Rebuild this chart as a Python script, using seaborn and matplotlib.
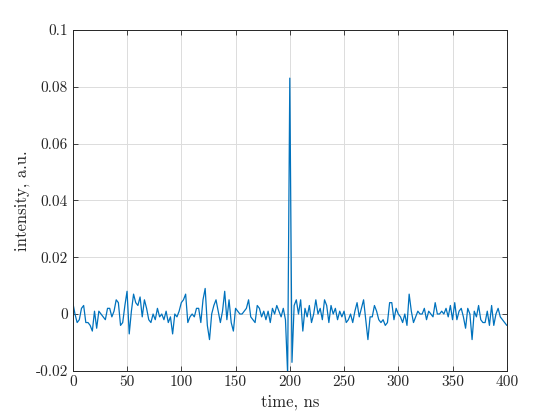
import numpy as np
import pandas as pd
import matplotlib
matplotlib.use("Agg")
import matplotlib.pyplot as plt
import seaborn as sns

# time axis, ns (2 ns sampling)
time_ns = np.arange(0, 401, 2)

# measured intensity, units of 1e-3 a.u.
intensity_milli = [
    4, 0, -3, -2, 2, 3, -3, -3, -4, -6,
    1, -5, 1, 0, -1, -2, 2, 2, -1, 1,
    5, 4, -4, -3, 3, 8, -7, 1, 7, 4,
    3, 6, -1, 5, 2, -2, -3, 0, -2, 2,
    -1, 0, -2, 1, -3, -1, -7, 0, -1, 1,
    4, 5, 7, -3, -1, 0, -1, 2, 2, -3,
    5, 9, -4, -9, 0, 3, 5, 1, -3, 1,
    8, -2, 5, -3, -6, 2, 1, 0, 0, 1,
    2, 5, -1, -2, -3, 3, 2, -1, 1, -2,
    1, -3, 2, 0, 3, 1, -1, 2, -2, -21,
    83, -17, 3, 5, 0, 5, -6, 2, -1, 3,
    -3, 0, 5, 0, 2, -2, 5, 3, -3, 3,
    0, 2, -2, 1, -1, 1, -3, -2, 0, -3,
    1, 4, -1, 2, 5, -2, -9, -1, -1, 3,
    1, -2, -3, -2, -4, -3, 4, 4, -2, 2,
    0, -1, -3, 0, -4, 7, 1, -3, -1, 1,
    0, 0, 2, -2, 1, 0, -1, 4, 0, 0,
    1, 0, 2, -1, 3, -2, 4, -2, 1, 2,
    -1, -5, 2, 0, -9, 1, -1, 3, -2, -3,
    -3, 1, -4, 3, -4, 0, 2, -1, -2, -3,
    -4,
]

xticks = [0, 50, 100, 150, 200, 250, 300, 350, 400]
yticks = [-0.02, 0, 0.02, 0.04, 0.06, 0.08, 0.1]
ytick_labels = ["-0.02", "0", "0.02", "0.04", "0.06", "0.08", "0.1"]


def main():
    df = pd.DataFrame({"time": time_ns, "intensity": np.array(intensity_milli) * 1e-3})

    sns.set_style("ticks")
    plt.rcParams["font.family"] = ["cmr10", "DejaVu Serif"]
    plt.rcParams["axes.unicode_minus"] = False
    plt.rcParams["axes.formatter.use_mathtext"] = True

    fig = plt.figure(figsize=(5.6, 4.2), dpi=100)
    ax = fig.add_axes([0.13, 0.117, 0.775, 0.812])

    sns.lineplot(data=df, x="time", y="intensity", color="#0072BD", linewidth=0.9, ax=ax)

    ax.set_xlim(0, 400)
    ax.set_ylim(-0.02, 0.1)
    ax.set_xticks(xticks)
    ax.set_xticklabels([str(v) for v in xticks])
    ax.set_yticks(yticks)
    ax.set_yticklabels(ytick_labels)
    ax.grid(True, color="#dcdcdc", linewidth=0.7)
    ax.set_axisbelow(True)
    ax.tick_params(direction="in", top=True, right=True, length=3.5,
                   width=0.6, color="#262626", labelsize=11, labelcolor="#262626")
    for sp in ax.spines.values():
        sp.set_visible(True)
        sp.set_color("#262626")
        sp.set_linewidth(0.7)

    ax.set_xlabel("time, ns", fontsize=12, color="#262626")
    ax.set_ylabel("intensity, a.u.", fontsize=12, color="#262626")

    fig.savefig("out.png", dpi=100)
    plt.close(fig)


if __name__ == "__main__":
    main()
